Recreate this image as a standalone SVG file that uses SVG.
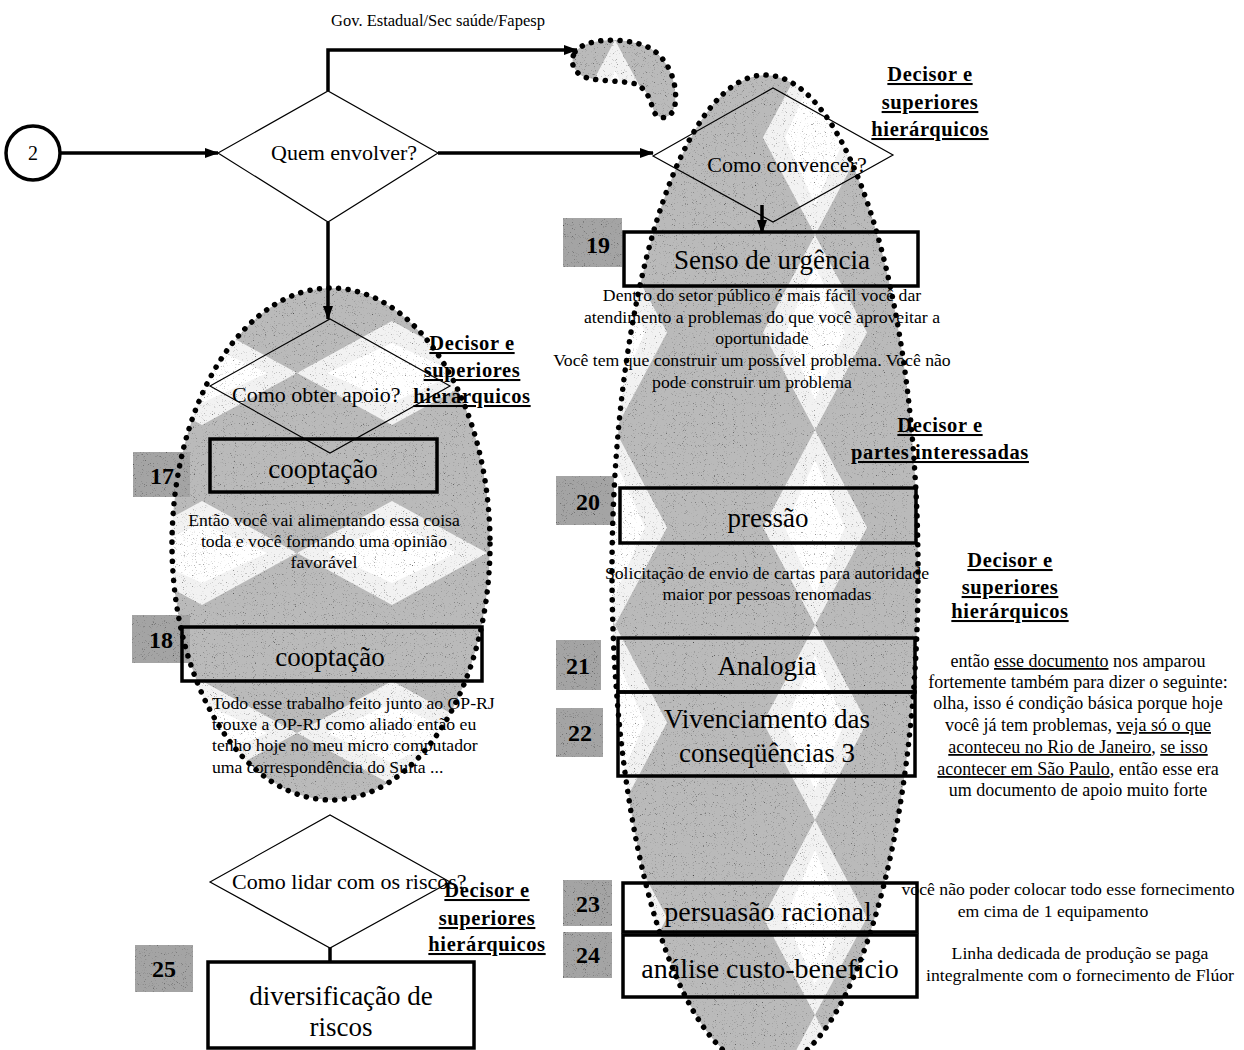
<svg xmlns="http://www.w3.org/2000/svg" width="1244" height="1050" viewBox="0 0 1244 1050">
  <style>
    text { font-family: "Liberation Serif", "Times New Roman", serif; fill: #000; }
    .q { font-size: 22px; }
    .gov { font-size: 16.5px; }
    .box { fill: none; stroke: #000; stroke-width: 3.5; }
    .boxw { fill: #fff; stroke: #000; stroke-width: 3.5; }
    .dia { fill: none; stroke: #000; stroke-width: 1.2; }
    .diaw { fill: #fff; stroke: #000; stroke-width: 1.2; }
    .big { font-size: 27px; text-anchor: middle; }
    .big28 { font-size: 28px; text-anchor: middle; }
    .body { font-size: 17.7px; text-anchor: middle; }
    .left { text-anchor: start; }
    .para { font-size: 18px; text-anchor: middle; }
    .who { font-size: 20.5px; font-weight: bold; text-anchor: middle; text-decoration: underline; letter-spacing: 0.6px; }
    .num { font-size: 24px; font-weight: bold; text-anchor: middle; }
    .tag { fill: #a4a4a4; }
    .dots { fill: none; stroke: #000; stroke-width: 5.5; stroke-linecap: round; stroke-dasharray: 0.1 9.5; }
    .conn { fill: none; stroke: #000; stroke-width: 3.5; marker-end: url(#arr); }
    .ul { text-decoration: underline; }
  </style>
  <defs>
    <marker id="arr" viewBox="0 0 14 10" refX="13" refY="5" markerWidth="14" markerHeight="10" markerUnits="userSpaceOnUse" orient="auto">
      <path d="M0,0 L14,5 L0,10 z" fill="#000"/>
    </marker>
    <!-- gray hexagon tiling with white diamonds, tips touching vertically -->
    <pattern id="texR" x="115" y="40" width="200" height="195" patternUnits="userSpaceOnUse">
      <rect width="200" height="195" fill="#bababa"/>
      <polygon points="100,0 152,97.5 100,195 48,97.5" fill="#f2f2f2"/>
      <polygon points="100,30 130,97.5 100,165 70,97.5" fill="#fff"/>
    </pattern>
    <!-- same tiling turned a quarter, tips touching horizontally -->
    <pattern id="texL" x="107" y="463" width="190" height="180" patternUnits="userSpaceOnUse">
      <rect width="190" height="180" fill="#bababa"/>
      <polygon points="0,90 95,38 190,90 95,142" fill="#f2f2f2"/>
      <polygon points="30,90 95,60 160,90 95,120" fill="#fff"/>
    </pattern>
    <!-- fine speckle laid over the shaded fills -->
    <filter id="grain" x="0" y="0" width="100%" height="100%" color-interpolation-filters="sRGB">
      <feTurbulence type="fractalNoise" baseFrequency="1.1" numOctaves="1" seed="7" result="noise"/>
      <feColorMatrix in="noise" type="matrix" values="0 0 0 0 0.5  0 0 0 0 0.5  0 0 0 0 0.5  0 0 0 0 1" result="flat"/>
      <feColorMatrix in="noise" type="matrix" values="0.33 0.33 0.33 0 0  0.33 0.33 0.33 0 0  0.33 0.33 0.33 0 0  0 0 0 0 1" result="gray"/>
      <feComponentTransfer in="gray" result="speck">
        <feFuncR type="linear" slope="3" intercept="-0.3"/>
        <feFuncG type="linear" slope="3" intercept="-0.3"/>
        <feFuncB type="linear" slope="3" intercept="-0.3"/>
      </feComponentTransfer>
      <feBlend in="SourceGraphic" in2="speck" mode="multiply" result="mixed"/>
      <feComposite in="mixed" in2="SourceGraphic" operator="in"/>
    </filter>
  </defs>

  <rect width="1244" height="1050" fill="#fff"/>

  <!-- textured group fills -->
  <g id="group-fills" filter="url(#grain)">
    <ellipse cx="331" cy="544" rx="159" ry="256" fill="url(#texL)"/>
    <ellipse cx="765" cy="572" rx="153" ry="497" fill="url(#texR)"/>
    <path d="M575,52 C585,38 625,36 650,48 C670,60 678,85 675,105 C673,118 660,122 654,112 C650,100 648,90 636,84 C620,80 595,82 582,76 C572,70 570,60 575,52 Z" fill="url(#texR)"/>
    <rect class="tag" x="133" y="452" width="57" height="45"/>
    <rect class="tag" x="132" y="615" width="58" height="48"/>
    <rect class="tag" x="563" y="218" width="59" height="49"/>
    <rect class="tag" x="556" y="476" width="58" height="49"/>
    <rect class="tag" x="556" y="640" width="45" height="50"/>
    <rect class="tag" x="556" y="708" width="47" height="49"/>
    <rect class="tag" x="563" y="880" width="49" height="46"/>
    <rect class="tag" x="563" y="932" width="49" height="46"/>
    <rect class="tag" x="135" y="945" width="58" height="47"/>
  </g>

  <!-- connectors -->
  <g id="connectors">
    <path class="conn" d="M61,153 H218"/>
    <path class="conn" d="M328,91 V50 H577"/>
    <path class="conn" d="M438,153 H653"/>
    <path class="conn" d="M328,222 V319"/>
    <path class="conn" d="M762,205 V233"/>
    <path class="conn" d="M330,935 V975"/>
  </g>

  <g id="start-2">
    <circle cx="33" cy="153" r="27" fill="#fff" stroke="#000" stroke-width="3.5"/>
    <text x="33" y="160" font-size="20" text-anchor="middle">2</text>
  </g>

  <g id="quem-envolver">
    <polygon class="diaw" points="218,153 328,91 438,153 328,222"/>
    <text x="344" y="160" class="q" text-anchor="middle">Quem envolver?</text>
  </g>

  <g id="gov-estadual">
    <text x="438" y="26" class="gov" text-anchor="middle">Gov. Estadual/Sec saúde/Fapesp</text>
  </g>

  <g id="como-convencer">
    <polygon class="dia" points="653,156 773,88 893,155 773,222"/>
    <text x="787" y="172" class="q" text-anchor="middle">Como convencer?</text>
  </g>

  <g id="como-obter-apoio">
    <polygon class="dia" points="210,386 330,319 450,386 330,453"/>
    <text x="232" y="402" class="q">Como obter apoio?</text>
  </g>

  <g id="como-lidar">
    <polygon class="diaw" points="210,882 330,815 450,882 330,948"/>
    <text x="232" y="889" class="q">Como lidar com os riscos?</text>
  </g>

  <!-- boxes -->
  <g id="n17">
    <rect class="box" x="210" y="439" width="227" height="53"/>
    <text x="323" y="478" class="big">cooptação</text>
    <text x="162" y="484" class="num">17</text>
  </g>
  <g id="n18">
    <rect class="box" x="182" y="627" width="300" height="54"/>
    <text x="330" y="666" class="big">cooptação</text>
    <text x="161" y="648" class="num">18</text>
  </g>
  <g id="n19">
    <rect class="box" x="624" y="232" width="294" height="54"/>
    <text x="772" y="269" class="big">Senso de urgência</text>
    <text x="598" y="253" class="num">19</text>
  </g>
  <g id="n20">
    <rect class="box" x="620" y="488" width="296" height="55"/>
    <text x="768" y="527" class="big">pressão</text>
    <text x="588" y="510" class="num">20</text>
  </g>
  <g id="n21">
    <rect class="box" x="618" y="638" width="297" height="54"/>
    <text x="767" y="675" class="big">Analogia</text>
    <text x="578" y="674" class="num">21</text>
  </g>
  <g id="n22">
    <rect class="box" x="618" y="692" width="297" height="84"/>
    <text x="767" y="728" class="big">Vivenciamento das</text>
    <text x="767" y="762" class="big">conseqüências 3</text>
    <text x="580" y="741" class="num">22</text>
  </g>
  <g id="n23">
    <rect class="box" x="623" y="883" width="294" height="49"/>
    <text x="768" y="921" class="big28">persuasão racional</text>
    <text x="588" y="912" class="num">23</text>
  </g>
  <g id="n24">
    <rect class="box" x="623" y="935" width="294" height="62"/>
    <text x="770" y="978" class="big28">análise custo-benefício</text>
    <text x="588" y="963" class="num">24</text>
  </g>
  <g id="n25">
    <rect class="boxw" x="208" y="962" width="266" height="86"/>
    <text x="341" y="1005" class="big">diversificação de</text>
    <text x="341" y="1036" class="big">riscos</text>
    <text x="164" y="977" class="num">25</text>
  </g>

  <!-- dotted group outlines -->
  <g id="group-outlines">
    <ellipse class="dots" cx="331" cy="544" rx="159" ry="256"/>
    <ellipse class="dots" cx="765" cy="572" rx="153" ry="497"/>
    <path class="dots" d="M575,52 C585,38 625,36 650,48 C670,60 678,85 675,105 C673,118 660,122 654,112 C650,100 648,90 636,84 C620,80 595,82 582,76 C572,70 570,60 575,52 Z"/>
  </g>

  <!-- stakeholder labels -->
  <g id="who-top">
    <text x="930" y="81" class="who">Decisor e</text>
    <text x="930" y="109" class="who">superiores</text>
    <text x="930" y="136" class="who">hierárquicos</text>
  </g>
  <g id="who-apoio">
    <text x="472" y="350" class="who">Decisor e</text>
    <text x="472" y="377" class="who">superiores</text>
    <text x="472" y="403" class="who">hierárquicos</text>
  </g>
  <g id="who-pressao">
    <text x="940" y="432" class="who">Decisor e</text>
    <text x="940" y="459" class="who">partes interessadas</text>
  </g>
  <g id="who-analogia">
    <text x="1010" y="567" class="who">Decisor e</text>
    <text x="1010" y="594" class="who">superiores</text>
    <text x="1010" y="618" class="who">hierárquicos</text>
  </g>
  <g id="who-riscos">
    <text x="487" y="897" class="who">Decisor e</text>
    <text x="487" y="925" class="who">superiores</text>
    <text x="487" y="951" class="who">hierárquicos</text>
  </g>

  <!-- quotes -->
  <g id="quote-17">
    <text x="324" y="526" class="body">Então você vai alimentando essa coisa</text>
    <text x="324" y="547" class="body">toda e você formando uma opinião</text>
    <text x="324" y="568" class="body">favorável</text>
  </g>
  <g id="quote-18">
    <text x="212" y="709" class="body left">Todo esse trabalho feito junto ao OP-RJ</text>
    <text x="212" y="730" class="body left">trouxe a OP-RJ como aliado então eu</text>
    <text x="212" y="751" class="body left">tenho hoje no meu micro computador</text>
    <text x="212" y="773" class="body left">uma correspondência do Suita ...</text>
  </g>
  <g id="quote-19">
    <text x="762" y="301" class="body">Dentro do setor público é mais fácil você dar</text>
    <text x="762" y="323" class="body">atendimento a problemas do que você aproveitar a</text>
    <text x="762" y="344" class="body">oportunidade</text>
    <text x="752" y="366" class="body">Você tem que construir um possível problema. Você não</text>
    <text x="752" y="388" class="body">pode construir um problema</text>
  </g>
  <g id="quote-20">
    <text x="767" y="579" class="body">Solicitação de envio de cartas para autoridade</text>
    <text x="767" y="600" class="body">maior por pessoas renomadas</text>
  </g>
  <g id="quote-21-22">
    <text x="1078" y="667" class="para">então <tspan class="ul">esse documento</tspan> nos amparou</text>
    <text x="1078" y="688" class="para">fortemente também para dizer o seguinte:</text>
    <text x="1078" y="709" class="para">olha, isso é condição básica porque hoje</text>
    <text x="1078" y="731" class="para">você já tem problemas, <tspan class="ul">veja só o que</tspan></text>
    <text x="1078" y="753" class="para"><tspan class="ul">aconteceu no Rio de Janeiro</tspan>, <tspan class="ul">se isso</tspan></text>
    <text x="1078" y="775" class="para"><tspan class="ul">acontecer em São Paulo</tspan>, então esse era</text>
    <text x="1078" y="796" class="para">um documento de apoio muito forte</text>
  </g>
  <g id="quote-23">
    <text x="1068" y="895" class="body">você não poder colocar todo esse fornecimento</text>
    <text x="1053" y="917" class="body">em cima de 1 equipamento</text>
  </g>
  <g id="quote-24">
    <text x="1080" y="959" class="body">Linha dedicada de produção se paga</text>
    <text x="1080" y="981" class="body">integralmente com o fornecimento de Flúor</text>
  </g>
</svg>
